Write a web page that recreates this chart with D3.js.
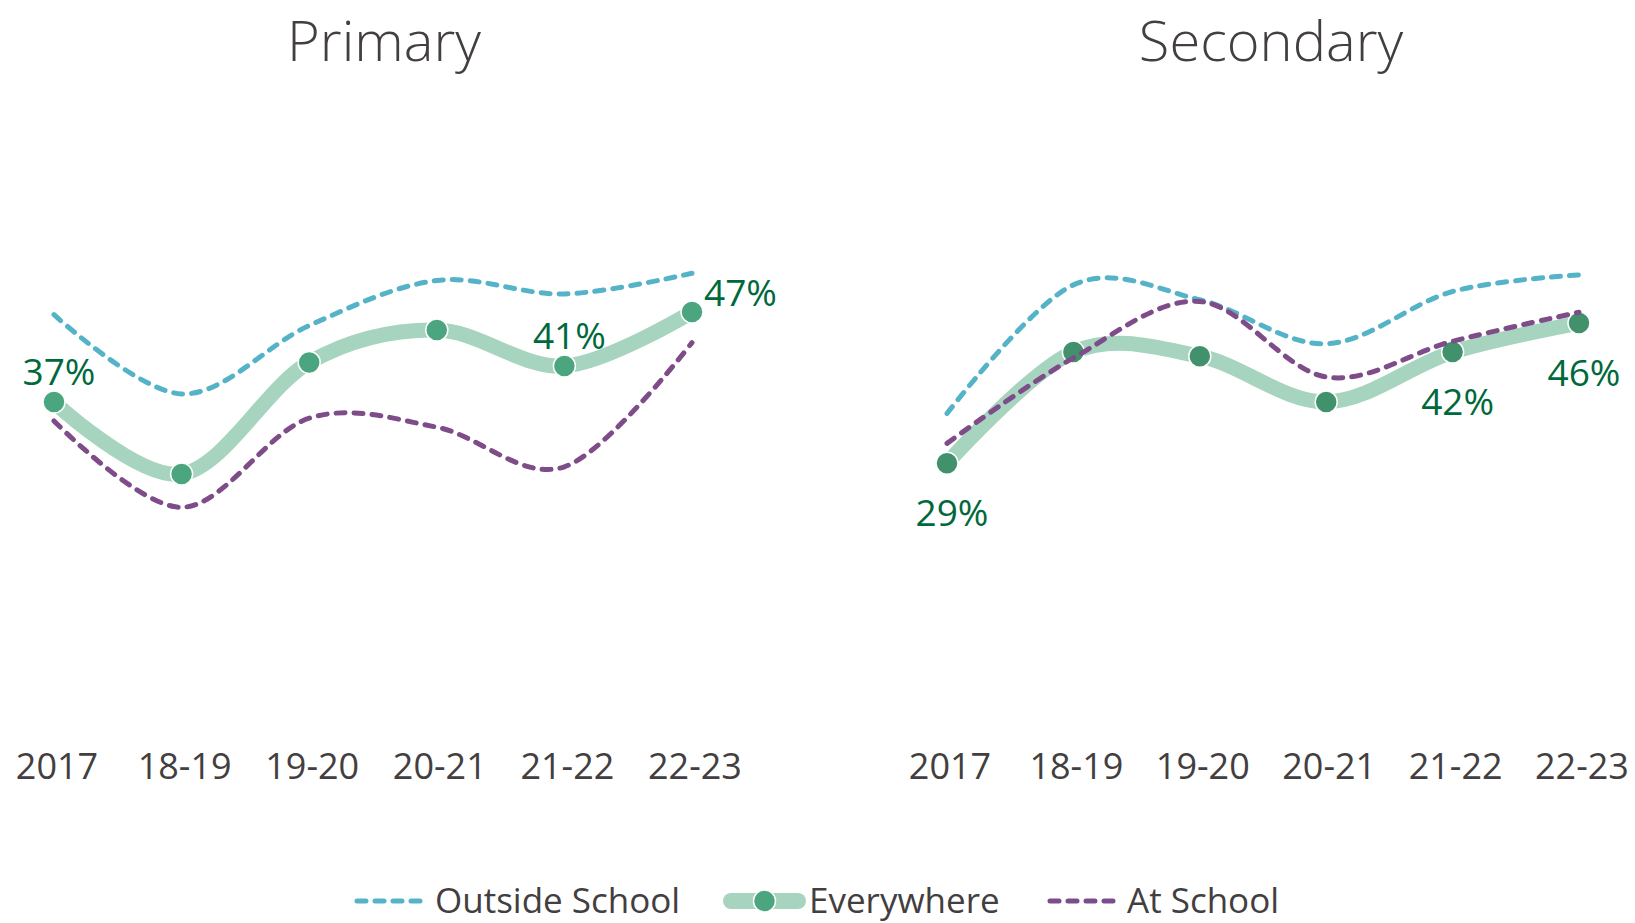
<!DOCTYPE html>
<html>
<head>
<meta charset="utf-8">
<script src="https://d3js.org/d3.v7.min.js"></script>
<style>
    body { margin: 0; background: #fff; }
    text { font-family: "Open Sans", "Noto Sans", sans-serif; }
</style>
</head>
<body>
<div id="chart"></div>
<script>
//Data
var categories = ["2017", "18-19", "19-20", "20-21", "21-22", "22-23"];

var primaryOutside    = [0.467, 0.379, 0.455, 0.505, 0.490, 0.513];
var primaryEverywhere = [0.370, 0.290, 0.414, 0.450, 0.410, 0.470];
var primaryAtSchool   = [0.349, 0.253, 0.352, 0.342, 0.298, 0.436];
var primaryLabelPos   = ["above", null, null, null, "above", "right"];

var secondaryOutside    = [0.350, 0.505, 0.487, 0.434, 0.497, 0.517];
var secondaryEverywhere = [0.290, 0.424, 0.419, 0.364, 0.424, 0.459];
var secondaryAtSchool   = [0.314, 0.417, 0.485, 0.394, 0.437, 0.472];
var secondaryLabelPos   = ["below", null, null, null, "below", "below"];

var seriesNames = ["Outside School", "Everywhere", "At School"];

//Style
var colOutside = "#55b3c7";
var colAtSchool = "#7e4c89";
var colEverywhereLine = "#a6d4bf";
var colLabel = "#00693c";
var colText = "#433e40";

var width = 1635, height = 923;

var svg = d3.select("#chart")
    .append("svg")
    .attr("width", width)
    .attr("height", height);

var panels = [
    {
        title: "Primary", cx: 384,
        x: d3.scalePoint().domain(categories).range([54, 692]),
        y: d3.scaleLinear().domain([0, 0.5]).range([735, 285]),
        outside: primaryOutside, every: primaryEverywhere, atSchool: primaryAtSchool,
        labelPos: primaryLabelPos, marker: "#4ba57e"
    },
    {
        title: "Secondary", cx: 1271,
        x: d3.scalePoint().domain(categories).range([947, 1579]),
        y: d3.scaleLinear().domain([0, 0.5]).range([704, 289]),
        outside: secondaryOutside, every: secondaryEverywhere, atSchool: secondaryAtSchool,
        labelPos: secondaryLabelPos, marker: "#40916c"
    }
];

var fmt = d3.format(".0%");

panels.forEach(function (p) {
    var g = svg.append("g");

    var line = d3.line()
        .x(function (d, i) { return p.x(categories[i]); })
        .y(function (d) { return p.y(d); })
        .curve(d3.curveCardinal.tension(0));

    // title
    g.append("text")
        .attr("x", p.cx)
        .attr("y", 61)
        .attr("text-anchor", "middle")
        .style("font-size", "56px")
        .style("font-weight", 300)
        .style("fill", colText)
        .text(p.title);

    // category labels
    g.selectAll(".catLabel")
        .data(categories)
        .enter()
        .append("text")
        .attr("class", "catLabel")
        .attr("x", function (d) { return p.x(d) + 3; })
        .attr("y", 779)
        .attr("text-anchor", "middle")
        .style("font-size", "36px")
        .style("fill", colText)
        .text(function (d) { return d; });

    // outside school
    g.append("path")
        .datum(p.outside)
        .attr("fill", "none")
        .attr("stroke", colOutside)
        .attr("stroke-width", 5)
        .attr("stroke-linecap", "round")
        .attr("stroke-dasharray", "9,9")
        .attr("d", line);

    // everywhere
    g.append("path")
        .datum(p.every)
        .attr("fill", "none")
        .attr("stroke", colEverywhereLine)
        .attr("stroke-width", 15)
        .attr("stroke-linecap", "round")
        .attr("d", line);

    g.selectAll(".dot")
        .data(p.every)
        .enter()
        .append("circle")
        .attr("class", "dot")
        .attr("cx", function (d, i) { return p.x(categories[i]); })
        .attr("cy", function (d) { return p.y(d); })
        .attr("r", 11)
        .style("fill", p.marker)
        .style("stroke", "#fff")
        .style("stroke-width", 1.5);

    // at school
    g.append("path")
        .datum(p.atSchool)
        .attr("fill", "none")
        .attr("stroke", colAtSchool)
        .attr("stroke-width", 5)
        .attr("stroke-linecap", "round")
        .attr("stroke-dasharray", "9,9")
        .attr("d", line);

    // data labels
    var labels = p.every.map(function (v, i) { return { v: v, i: i, pos: p.labelPos[i] }; })
        .filter(function (d) { return d.pos; });

    g.selectAll(".dataLabel")
        .data(labels)
        .enter()
        .append("text")
        .attr("class", "dataLabel")
        .attr("x", function (d) {
            var px = p.x(categories[d.i]);
            return d.pos == "right" ? px + 12 : px + 5;
        })
        .attr("y", function (d) {
            var py = p.y(d.v);
            if (d.pos == "above") return py - 17;
            if (d.pos == "below") return py + 63;
            return py - 6;
        })
        .attr("text-anchor", function (d) { return d.pos == "right" ? "start" : "middle"; })
        .style("font-size", "37px")
        .style("fill", colLabel)
        .text(function (d) { return fmt(d.v); });
});

// legend
var leg = svg.append("g");
var legY = 901;
var legItems = [
    { name: seriesNames[0], x0: 357, x1: 426, tx: 435 },
    { name: seriesNames[1], x0: 731, x1: 798, tx: 809 },
    { name: seriesNames[2], x0: 1050, x1: 1120, tx: 1127 }
];

legItems.forEach(function (d, i) {
    if (i == 1) {
        leg.append("line")
            .attr("x1", d.x0).attr("x2", d.x1)
            .attr("y1", legY).attr("y2", legY)
            .attr("stroke", colEverywhereLine)
            .attr("stroke-width", 16)
            .attr("stroke-linecap", "round");
        leg.append("circle")
            .attr("cx", (d.x0 + d.x1) / 2)
            .attr("cy", legY)
            .attr("r", 11)
            .style("fill", "#4ba57e")
            .style("stroke", "#fff")
            .style("stroke-width", 1.5);
    } else {
        leg.append("line")
            .attr("x1", d.x0).attr("x2", d.x1)
            .attr("y1", legY).attr("y2", legY)
            .attr("stroke", i == 0 ? colOutside : colAtSchool)
            .attr("stroke-width", 5)
            .attr("stroke-linecap", "round")
            .attr("stroke-dasharray", "9,9");
    }
    leg.append("text")
        .attr("x", d.tx)
        .attr("y", legY + 12)
        .style("font-size", "35px")
        .style("fill", colText)
        .text(d.name);
});
</script>
</body>
</html>
